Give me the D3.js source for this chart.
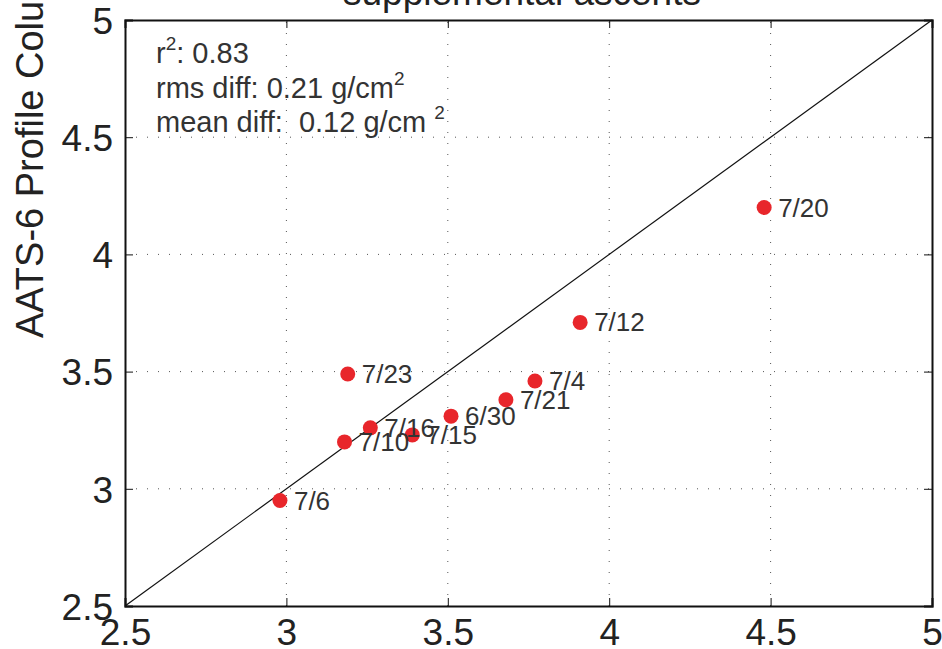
<!DOCTYPE html>
<html>
<head>
<meta charset="utf-8">
<script src="https://cdn.jsdelivr.net/npm/d3@7"></script>
<style>
  body { margin: 0; background: #fff; }
  svg { display: block; }
</style>
</head>
<body>
<div id="chart"></div>
<script>
// values
const dates = ["7/6", "7/10", "7/16", "7/15", "7/23", "6/30", "7/21", "7/4", "7/12", "7/20"];
const sondeVals = [2.98, 3.18, 3.26, 3.39, 3.19, 3.51, 3.68, 3.77, 3.91, 4.48];
const aatsVals = [2.95, 3.20, 3.26, 3.23, 3.49, 3.31, 3.38, 3.46, 3.71, 4.20];
const tickVals = [2.5, 3, 3.5, 4, 4.5, 5];
const statLines = [
  { text: "r", sup: "2", rest: ": 0.83" },
  { text: "rms diff: 0.21 g/cm", sup: "2", rest: "" },
  { text: "mean diff:  0.12 g/cm ", sup: "2", rest: "" }
];

const width = 942, height = 649;
const margin = { top: 20, right: 10, bottom: 43, left: 125 };

const svg = d3.select("#chart").append("svg")
  .attr("width", width)
  .attr("height", height);

const x = d3.scaleLinear().domain([2.5, 5]).range([margin.left, width - margin.right]);
const y = d3.scaleLinear().domain([2.5, 5]).range([height - margin.bottom, margin.top]);

const font = "'Liberation Sans', Arial, sans-serif";

// dotted grid
const grid = svg.append("g");
grid.selectAll("line.gx")
  .data(tickVals.slice(1, -1))
  .join("line")
  .attr("x1", d => x(d)).attr("x2", d => x(d))
  .attr("y1", y(2.5)).attr("y2", y(5))
  .attr("stroke", "#555").attr("stroke-width", 1)
  .attr("stroke-dasharray", "1,10");
grid.selectAll("line.gy")
  .data(tickVals.slice(1, -1))
  .join("line")
  .attr("y1", d => y(d)).attr("y2", d => y(d))
  .attr("x1", x(2.5)).attr("x2", x(5))
  .attr("stroke", "#555").attr("stroke-width", 1)
  .attr("stroke-dasharray", "1,10");

// 1:1 line
svg.append("line")
  .attr("x1", x(2.5)).attr("y1", y(2.5))
  .attr("x2", x(5)).attr("y2", y(5))
  .attr("stroke", "#111").attr("stroke-width", 1.2);

// axes with inward ticks
const bottomAxis = svg.append("g")
  .attr("transform", `translate(0,${y(2.5)})`)
  .call(d3.axisBottom(x).tickValues(tickVals).tickSize(-8).tickPadding(12).tickFormat(d3.format("")));
const topAxis = svg.append("g")
  .attr("transform", `translate(0,${y(5)})`)
  .call(d3.axisTop(x).tickValues(tickVals).tickSize(-8).tickFormat(""));
const leftAxis = svg.append("g")
  .attr("transform", `translate(${x(2.5)},0)`)
  .call(d3.axisLeft(y).tickValues(tickVals).tickSize(-8).tickPadding(12).tickFormat(d3.format("")));
const rightAxis = svg.append("g")
  .attr("transform", `translate(${x(5)},0)`)
  .call(d3.axisRight(y).tickValues(tickVals).tickSize(-8).tickFormat(""));

[bottomAxis, topAxis, leftAxis, rightAxis].forEach(g => {
  g.select(".domain").attr("stroke", "#111").attr("stroke-width", 2);
  g.selectAll(".tick line").attr("stroke", "#111").attr("stroke-width", 1);
  g.selectAll("text")
    .attr("fill", "#222")
    .style("font-family", font)
    .style("font-size", "37px");
});
bottomAxis.selectAll("text").attr("dy", "0.72em");
leftAxis.selectAll("text").attr("dy", "0.36em");

// points
svg.append("g").selectAll("circle")
  .data(dates)
  .join("circle")
  .attr("cx", (d, i) => x(sondeVals[i]))
  .attr("cy", (d, i) => y(aatsVals[i]))
  .attr("r", 7.5)
  .attr("fill", "#e8262b");

svg.append("g").selectAll("text")
  .data(dates)
  .join("text")
  .attr("x", (d, i) => x(sondeVals[i]) + 14)
  .attr("y", (d, i) => y(aatsVals[i]) + 9)
  .attr("fill", "#333")
  .style("font-family", font)
  .style("font-size", "26px")
  .text(d => d);

// stats text
const stats = svg.append("g");
statLines.forEach((s, i) => {
  const t = stats.append("text")
    .attr("x", 156)
    .attr("y", 63 + i * 34.5)
    .attr("fill", "#333")
    .style("font-family", font)
    .style("font-size", "29px")
    .style("white-space", "pre");
  t.append("tspan").text(s.text);
  t.append("tspan").attr("dy", -13).style("font-size", "19px").text(s.sup);
  t.append("tspan").attr("dy", 13).text(s.rest);
});

// title, partly cut off by the window top
svg.append("text")
  .attr("x", 522)
  .attr("y", 5)
  .attr("text-anchor", "middle")
  .attr("fill", "#222")
  .style("font-family", font)
  .style("font-size", "37px")
  .text("supplemental ascents");

// y label, partly cut off
svg.append("text")
  .attr("transform", "translate(43,338) rotate(-90)")
  .attr("text-anchor", "start")
  .attr("fill", "#222")
  .style("font-family", font)
  .style("font-size", "38px")
  .text("AATS-6 Profile Column Water Vapor");
</script>
</body>
</html>
